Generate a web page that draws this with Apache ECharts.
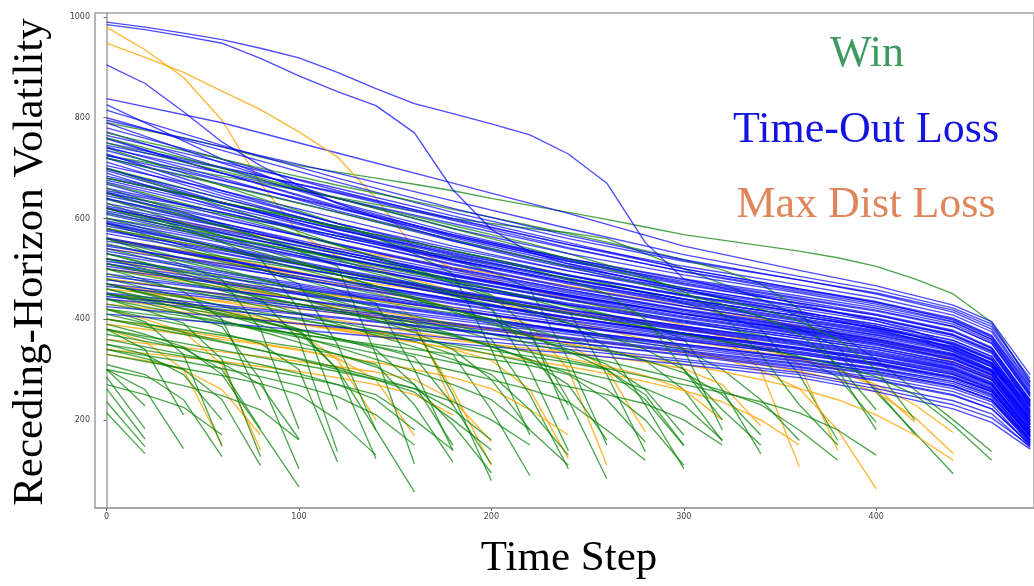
<!DOCTYPE html>
<html><head><meta charset="utf-8">
<script src="https://cdn.jsdelivr.net/npm/echarts@6/dist/echarts.min.js"></script>
<style>html,body{margin:0;padding:0;background:#fff}#c{width:1034px;height:586px}</style>
</head><body><div id="c"></div>
<script>
// ---------- tick labels ----------
const xTicks = [0, 100, 200, 300, 400];
const yTicks = [200, 400, 600, 800, 1000];

// ---------- categories / labels ----------
const outcomeNames = ['Win', 'Time-Out Loss', 'Max Dist Loss'];
const xTitle = 'Time Step';
const yTitle = 'Receding-Horizon Volatility';

// ---------- time steps ----------
const stepSize = 20; // green, orange and blue outlier trajectories are sampled every 20 steps
const blueSteps = [0, 60, 120, 180, 240, 300, 360, 400, 440, 460, 480];

// ---------- Time-Out Loss (blue), values at blueSteps ----------
const blueLines = [
  [838, 790, 730, 670, 610, 545, 497, 466, 428, 395, 290],
  [826, 718, 630, 565, 515, 475, 440, 416, 385, 352, 248],
  [800, 735, 672, 612, 560, 515, 478, 452, 418, 385, 282],
  [795, 742, 690, 635, 580, 528, 485, 458, 422, 390, 276],
  [780, 718, 655, 598, 548, 505, 468, 442, 408, 375, 268],
  [772, 700, 632, 572, 520, 478, 442, 418, 386, 352, 246],
  [765, 712, 660, 605, 552, 500, 460, 434, 398, 364, 258],
  [758, 690, 622, 562, 510, 468, 432, 408, 376, 342, 238],
  [750, 702, 650, 596, 542, 494, 455, 430, 395, 360, 252],
  [742, 680, 615, 558, 506, 462, 426, 400, 368, 335, 228],
  [735, 676, 622, 568, 518, 472, 436, 410, 378, 344, 240],
  [728, 655, 590, 535, 488, 448, 414, 390, 358, 326, 220],
  [720, 668, 612, 555, 505, 462, 426, 402, 370, 338, 234],
  [712, 645, 582, 528, 480, 440, 406, 382, 350, 318, 212],
  [705, 655, 600, 545, 496, 454, 420, 396, 364, 332, 230],
  [698, 640, 584, 532, 486, 446, 410, 386, 354, 322, 218],
  [690, 620, 560, 508, 462, 425, 392, 368, 338, 306, 200],
  [684, 632, 578, 526, 480, 440, 406, 382, 351, 320, 222],
  [676, 624, 570, 518, 472, 432, 398, 374, 344, 312, 210],
  [668, 605, 548, 498, 455, 418, 385, 362, 332, 300, 196],
  [660, 612, 560, 510, 464, 426, 392, 369, 340, 308, 214],
  [652, 600, 548, 500, 458, 420, 388, 365, 336, 305, 205],
  [645, 598, 550, 502, 458, 418, 384, 360, 330, 298, 192],
  [638, 585, 535, 488, 448, 412, 380, 358, 328, 296, 200],
  [630, 584, 536, 490, 448, 410, 376, 352, 322, 290, 186],
  [622, 572, 522, 478, 438, 402, 370, 348, 319, 288, 192],
  [615, 570, 524, 480, 440, 404, 372, 350, 320, 290, 198],
  [608, 558, 510, 466, 428, 394, 362, 340, 310, 280, 180],
  [600, 556, 510, 468, 430, 396, 366, 344, 315, 285, 190],
  [592, 545, 500, 458, 420, 386, 356, 334, 305, 275, 176],
  [585, 542, 498, 456, 418, 386, 357, 336, 308, 279, 185],
  [578, 532, 488, 448, 412, 380, 350, 328, 300, 270, 172],
  [570, 530, 488, 448, 410, 378, 348, 327, 299, 270, 180],
  [562, 520, 478, 440, 404, 372, 342, 320, 292, 262, 168],
  [555, 518, 478, 440, 404, 372, 344, 323, 296, 268, 176],
  [548, 506, 466, 430, 396, 365, 336, 314, 286, 258, 165],
  [540, 504, 468, 432, 398, 368, 340, 318, 290, 262, 172],
  [530, 492, 455, 420, 388, 358, 330, 308, 280, 252, 160],
  [520, 488, 452, 418, 386, 357, 330, 310, 283, 256, 168],
  [510, 476, 442, 410, 378, 350, 322, 300, 272, 245, 156],
  [500, 470, 438, 406, 376, 348, 322, 302, 276, 250, 162],
  [490, 460, 428, 398, 370, 342, 316, 295, 268, 240, 152],
  [478, 450, 420, 392, 364, 338, 312, 292, 266, 240, 158],
  [465, 440, 412, 386, 360, 334, 306, 284, 256, 230, 148],
  [452, 428, 404, 380, 354, 328, 300, 278, 248, 222, 150],
  [440, 418, 394, 370, 346, 320, 294, 268, 238, 212, 145],
  [425, 405, 384, 362, 340, 316, 290, 262, 230, 204, 148],
  [410, 392, 372, 352, 332, 310, 284, 256, 222, 195, 142],
  [760, 690, 625, 568, 520, 480, 446, 422, 390, 356, 250],
  [740, 690, 640, 590, 540, 495, 458, 433, 400, 366, 262],
  [700, 632, 570, 518, 474, 436, 402, 378, 346, 314, 208],
  [680, 630, 578, 530, 486, 448, 414, 390, 358, 326, 226],
  [650, 590, 535, 488, 446, 410, 378, 355, 325, 294, 194],
  [620, 575, 530, 486, 446, 410, 378, 356, 327, 296, 204],
  [590, 540, 494, 452, 414, 382, 352, 330, 302, 272, 178],
  [560, 518, 476, 438, 402, 370, 340, 318, 290, 260, 170],
  [535, 495, 458, 424, 392, 362, 334, 312, 284, 256, 166],
  [505, 472, 440, 408, 378, 350, 324, 303, 276, 248, 160],
  [470, 444, 416, 390, 362, 336, 310, 290, 262, 236, 155],
  [720, 650, 590, 540, 496, 458, 424, 400, 368, 336, 232],
  [815, 745, 680, 620, 566, 518, 478, 450, 414, 380, 272],
  [790, 710, 640, 580, 530, 488, 452, 426, 394, 360, 254],
  [745, 700, 652, 600, 548, 500, 460, 435, 402, 368, 265],
  [725, 675, 620, 565, 515, 470, 432, 408, 375, 342, 236],
  [695, 630, 572, 522, 478, 440, 406, 383, 352, 320, 216],
  [672, 618, 565, 515, 470, 430, 396, 372, 342, 310, 206],
  [655, 612, 565, 518, 474, 434, 400, 376, 345, 313, 215],
  [640, 590, 540, 494, 452, 415, 382, 360, 330, 298, 198],
  [625, 578, 530, 485, 444, 406, 374, 352, 322, 291, 190],
  [612, 562, 515, 472, 432, 398, 366, 344, 314, 284, 186],
  [595, 552, 508, 466, 428, 392, 362, 340, 311, 281, 184],
  [575, 536, 494, 455, 418, 384, 354, 332, 303, 273, 180],
  [545, 510, 472, 436, 402, 372, 343, 322, 294, 265, 174],
  [515, 482, 450, 418, 388, 360, 333, 312, 284, 256, 168],
  [485, 458, 430, 402, 374, 346, 318, 296, 268, 240, 160],
  [445, 424, 402, 378, 354, 330, 304, 280, 250, 222, 152]
];

// ---------- Time-Out Loss outliers (blue), every 20 steps ----------
const blueOutlierLines = [
  [990, 980, 968, 955, 938, 919, 890, 858, 828, 808, 788, 766, 728, 670, 552, 480, 462, 446, 430, 413, 396, 376, 348, 312, 238],
  [985, 975, 962, 948, 918, 883, 852, 824, 770, 657, 578, 533, 510, 492, 475, 458, 442, 427, 412, 397, 380, 361, 335, 300, 226],
  [905, 868, 812, 752, 705, 665, 630, 602, 578, 556, 536, 518, 502, 487, 472, 458, 444, 430, 416, 401, 386, 367, 340, 306, 230]
];

// ---------- Win (green), every 20 steps ----------
const greenLines = [
  [790, 775, 760, 742, 722, 705, 692, 680, 668, 655, 640, 626, 612, 598, 583, 568, 557, 546, 535, 522, 505, 480, 450, 394, 275],
  [725, 712, 698, 684, 670, 656, 642, 628, 614, 600, 590, 580, 572, 560, 530, 500, 470, 440, 405, 372, 320, 260, 200, 137],
  [650, 636, 622, 608, 594, 580, 566, 552, 538, 524, 510, 496, 482, 468, 454, 440, 425, 405, 380, 345, 255, 175, 93],
  [600, 588, 575, 562, 549, 536, 522, 508, 494, 480, 466, 452, 438, 424, 410, 396, 382, 368, 352, 330, 260, 172],
  [560, 548, 536, 524, 512, 500, 488, 476, 463, 450, 437, 424, 411, 398, 385, 372, 358, 343, 325, 285, 195],
  [680, 664, 648, 632, 616, 600, 584, 568, 552, 536, 520, 504, 488, 470, 452, 432, 410, 380, 290, 159],
  [520, 508, 496, 484, 472, 460, 448, 436, 424, 412, 400, 388, 376, 364, 352, 340, 300, 240, 159],
  [620, 604, 588, 572, 556, 540, 524, 508, 492, 476, 460, 444, 428, 410, 390, 360, 260, 133],
  [480, 470, 459, 448, 437, 426, 415, 404, 393, 382, 371, 360, 349, 336, 318, 260, 158],
  [590, 574, 558, 542, 526, 510, 494, 478, 462, 446, 430, 412, 392, 345, 230, 103],
  [450, 440, 430, 420, 410, 398, 386, 374, 362, 350, 338, 326, 314, 300, 240, 149],
  [640, 622, 604, 586, 568, 550, 532, 514, 496, 478, 460, 440, 418, 290, 137],
  [420, 410, 400, 390, 380, 370, 360, 350, 340, 330, 320, 308, 290, 240, 156],
  [560, 545, 530, 514, 498, 482, 466, 450, 434, 418, 400, 370, 240, 83],
  [700, 680, 660, 640, 620, 600, 580, 560, 540, 518, 494, 460, 320, 150],
  [510, 496, 482, 468, 454, 440, 426, 412, 398, 382, 360, 250, 103],
  [620, 602, 584, 566, 548, 530, 510, 490, 470, 448, 420, 300, 139],
  [470, 456, 442, 428, 414, 400, 386, 372, 356, 330, 220, 89],
  [740, 715, 690, 665, 640, 615, 590, 562, 530, 490, 340, 170],
  [540, 522, 504, 486, 468, 450, 432, 412, 385, 250, 79],
  [430, 418, 406, 394, 382, 370, 358, 345, 325, 230, 112],
  [580, 560, 540, 520, 500, 480, 458, 432, 300, 139],
  [400, 390, 379, 368, 356, 344, 330, 310, 230, 116],
  [480, 462, 444, 426, 406, 380, 300, 180, 57],
  [660, 636, 612, 588, 562, 535, 505, 330, 113],
  [470, 452, 434, 416, 398, 375, 300, 123],
  [590, 568, 546, 524, 500, 470, 350, 180],
  [420, 404, 388, 372, 352, 300, 117],
  [530, 510, 490, 468, 440, 360, 137],
  [630, 605, 580, 553, 520, 420, 220],
  [390, 370, 345, 290, 180, 67],
  [450, 432, 412, 385, 280, 103],
  [360, 345, 330, 312, 270, 162],
  [560, 535, 508, 478, 380, 182],
  [340, 322, 300, 240, 109],
  [440, 418, 392, 320, 127],
  [380, 362, 342, 300, 182],
  [500, 478, 455, 400, 240],
  [310, 290, 240, 127],
  [420, 395, 330, 147],
  [350, 330, 290, 200],
  [300, 260, 143],
  [380, 340, 210],
  [300, 228],
  [285, 182],
  [262, 162],
  [236, 147],
  [214, 133],
  [770, 752, 735, 718, 700, 683, 666, 650, 634, 618, 602, 586, 570, 553, 536, 518, 498, 470, 420, 300, 180],
  [750, 730, 712, 694, 676, 658, 640, 622, 604, 586, 568, 550, 530, 508, 484, 455, 410, 330, 230, 150],
  [610, 595, 580, 565, 550, 535, 520, 505, 490, 474, 458, 442, 425, 408, 390, 340, 180],
  [670, 650, 630, 610, 590, 568, 546, 524, 500, 475, 448, 380, 200],
  [500, 486, 472, 458, 444, 430, 416, 402, 386, 368, 345, 318, 270, 160],
  [460, 444, 428, 412, 396, 380, 362, 340, 270, 150],
  [460, 440, 420, 398, 376, 354, 330, 305, 270, 190, 95],
  [410, 392, 374, 356, 338, 320, 300, 280, 255, 200, 140],
  [520, 500, 478, 456, 434, 412, 390, 368, 345, 320, 290, 220, 130],
  [380, 366, 352, 338, 324, 310, 296, 280, 262, 220, 160],
  [350, 338, 326, 314, 300, 286, 270, 250, 200, 140],
  [440, 425, 410, 395, 380, 364, 348, 332, 315, 298, 280, 260, 236, 180, 120],
  [490, 474, 458, 442, 426, 410, 394, 378, 362, 346, 330, 314, 298, 282, 262, 230, 160],
  [550, 532, 514, 496, 478, 460, 442, 424, 406, 388, 370, 352, 334, 316, 298, 280, 258, 230, 180, 120],
  [600, 580, 560, 540, 520, 500, 480, 460, 440, 420, 400, 380, 360, 340, 318, 294, 250, 170],
  [330, 316, 302, 288, 272, 250, 200, 130],
  [470, 450, 430, 410, 388, 366, 344, 320, 296, 270, 240, 180, 110],
  [640, 615, 590, 565, 540, 515, 490, 465, 440, 415, 390, 365, 340, 310, 260, 170],
  [700, 675, 650, 625, 600, 574, 548, 522, 496, 470, 444, 418, 392, 366, 340, 300, 220, 150],
  [370, 356, 342, 326, 310, 292, 270, 240, 180],
  [560, 540, 520, 500, 480, 458, 436, 414, 392, 370, 346, 320, 292, 260, 200, 110],
  [510, 494, 478, 462, 446, 430, 414, 398, 382, 366, 350, 334, 318, 302, 286, 270, 254, 236, 214, 180, 130],
  [580, 566, 552, 538, 524, 510, 496, 482, 468, 454, 440, 426, 412, 398, 384, 370, 356, 342, 326, 308, 286, 250, 190, 120],
  [720, 702, 684, 666, 648, 630, 612, 594, 576, 558, 540, 522, 504, 486, 468, 450, 430, 405, 370, 310, 220],
  [680, 664, 648, 632, 616, 600, 584, 568, 552, 536, 520, 500, 478, 450, 400, 300, 200],
  [650, 628, 606, 584, 562, 540, 518, 496, 474, 452, 420, 340, 230],
  [400, 385, 370, 354, 338, 322, 304, 284, 262, 236, 200, 150],
  [300, 285, 268, 248, 220, 160],
  [270, 250, 225, 170],
  [530, 512, 494, 476, 458, 440, 420, 398, 374, 340, 280, 180],
  [620, 598, 576, 554, 532, 510, 488, 466, 444, 420, 394, 366, 336, 300, 250, 150],
  [760, 740, 720, 700, 680, 660, 640, 620, 600, 580, 560, 540, 520, 500, 480, 460, 440, 420, 396, 360, 300, 200],
  [450, 436, 422, 408, 394, 378, 362, 346, 330, 314, 298, 282, 266, 250, 232, 200, 150],
  [340, 328, 316, 302, 286, 268, 246, 210, 150]
];

// ---------- Max Dist Loss (orange), every 20 steps ----------
const orangeLines = [
  [980, 935, 880, 795, 670, 570, 525, 500, 478, 456, 436, 416, 397, 378, 360, 342, 322, 298, 262, 180, 63],
  [948, 920, 890, 853, 816, 772, 722, 640, 540, 500, 478, 458, 440, 423, 406, 388, 365, 300, 107],
  [380, 355, 300, 150],
  [420, 400, 375, 310, 140],
  [470, 452, 434, 416, 398, 375, 320, 200],
  [400, 388, 376, 364, 352, 340, 322, 280, 168],
  [520, 504, 488, 472, 456, 440, 422, 404, 380, 260, 109],
  [360, 352, 344, 335, 326, 316, 306, 295, 280, 240, 157],
  [450, 440, 428, 416, 404, 392, 380, 368, 355, 340, 318, 260, 123],
  [560, 545, 530, 515, 500, 485, 470, 455, 440, 424, 408, 390, 300, 110],
  [480, 470, 460, 450, 440, 430, 420, 410, 400, 390, 380, 368, 352, 300, 176],
  [430, 422, 414, 406, 398, 390, 382, 374, 366, 358, 350, 342, 334, 325, 315, 302, 270, 188],
  [540, 530, 520, 510, 500, 490, 480, 470, 460, 449, 438, 427, 416, 405, 393, 381, 368, 354, 310, 139],
  [500, 491, 482, 473, 464, 455, 446, 437, 428, 418, 408, 398, 388, 378, 368, 357, 346, 334, 320, 300, 265, 196],
  [460, 452, 444, 436, 428, 420, 412, 404, 396, 388, 380, 371, 362, 353, 343, 333, 322, 310, 296, 280, 255, 205, 133],
  [620, 605, 592, 578, 566, 553, 541, 528, 516, 503, 491, 478, 466, 452, 440, 426, 413, 400, 386, 372, 358, 340, 315, 282, 205],
  [330, 318, 300, 260, 170],
  [560, 548, 536, 522, 508, 494, 478, 460, 400, 230],
  [440, 430, 420, 410, 400, 390, 378, 366, 354, 342, 330, 318, 306, 292, 276, 258, 236, 200, 150],
  [390, 380, 370, 360, 350, 338, 326, 314, 300, 284, 262, 220, 170],
  [500, 488, 476, 464, 452, 440, 428, 416, 404, 392, 380, 366, 352, 338, 324, 310, 296, 280, 262, 240, 210, 170, 120],
  [470, 458, 446, 434, 422, 410, 398, 386, 374, 362, 350, 336, 322, 306, 288, 260, 200],
  [340, 332, 324, 316, 306, 296, 284, 270, 250, 210],
  [580, 566, 552, 538, 524, 510, 496, 482, 468, 454, 440, 426, 412, 398, 384, 370, 356, 340, 322, 300, 270, 230, 175]
];

// ---------- build series ----------
const COLORS = { win: '#008000', timeout: '#0000ff', maxdist: '#ffa500' };
function pairsEvery(ys) { return ys.map((y, i) => [i * stepSize, y]); }
function pairsAt(ys, steps) { return ys.map((y, i) => [steps[i], y]); }
function mk(data, color, op) {
  return { type: 'line', data: data, showSymbol: false, symbol: 'none', silent: true,
    animation: false, lineStyle: { color: color, width: 1.35, opacity: op }, emphasis: { disabled: true } };
}
const series = [];
const nMax = Math.max(blueLines.length, greenLines.length, orangeLines.length);
for (let i = 0; i < nMax; i++) {
  if (i < orangeLines.length) series.push(mk(pairsEvery(orangeLines[i]), COLORS.maxdist, 0.8));
  if (i < greenLines.length) series.push(mk(pairsEvery(greenLines[i]), COLORS.win, 0.7));
  if (i < blueLines.length) series.push(mk(pairsAt(blueLines[i], blueSteps), COLORS.timeout, 0.7));
}
blueOutlierLines.forEach(l => series.push(mk(pairsEvery(l), COLORS.timeout, 0.7)));

const serif = 'Liberation Serif, Times New Roman, serif';
const chart = echarts.init(document.getElementById('c'), null, { renderer: 'canvas' });
chart.setOption({
  animation: false,
  backgroundColor: '#fff',
  grid: { left: 95, top: 13, right: -2, bottom: 78, show: true, borderColor: '#a0a0a0', borderWidth: 1.5, containLabel: false },
  xAxis: {
    type: 'value', min: -6, max: 482,
    axisLine: { show: true, lineStyle: { color: '#a0a0a0', width: 1.5 } },
    axisTick: { show: true, length: 3, customValues: xTicks, lineStyle: { color: '#666' } },
    axisLabel: { customValues: xTicks, formatter: v => String(v), fontSize: 8, color: '#444', margin: 5, fontFamily: 'DejaVu Sans' },
    splitLine: { show: false }
  },
  yAxis: {
    type: 'value', min: 25, max: 1008,
    axisLine: { show: true, lineStyle: { color: '#a0a0a0', width: 1.5 } },
    axisTick: { show: true, length: 3, customValues: yTicks, lineStyle: { color: '#666' } },
    axisLabel: { customValues: yTicks, formatter: v => String(v), fontSize: 8, color: '#444', margin: 5, fontFamily: 'DejaVu Sans' },
    splitLine: { show: false }
  },
  graphic: [
    { type: 'text', x: 867, y: 54, silent: true, style: { text: outcomeNames[0], fill: '#3c9a5f', font: '44px ' + serif, textAlign: 'center', textVerticalAlign: 'middle' } },
    { type: 'text', x: 866, y: 130, silent: true, style: { text: outcomeNames[1], fill: '#1414e0', font: '44px ' + serif, textAlign: 'center', textVerticalAlign: 'middle' } },
    { type: 'text', x: 866, y: 205, silent: true, style: { text: outcomeNames[2], fill: '#e0855a', font: '44px ' + serif, textAlign: 'center', textVerticalAlign: 'middle' } },
    { type: 'text', x: 569, y: 559, silent: true, style: { text: xTitle, fill: '#000', font: '43px ' + serif, textAlign: 'center', textVerticalAlign: 'middle' } },
    { type: 'text', x: 31, y: 262, rotation: Math.PI / 2, silent: true, style: { text: yTitle, fill: '#000', font: '43px ' + serif, textAlign: 'center', textVerticalAlign: 'middle' } }
  ],
  series: series
});
</script>
</body></html>
